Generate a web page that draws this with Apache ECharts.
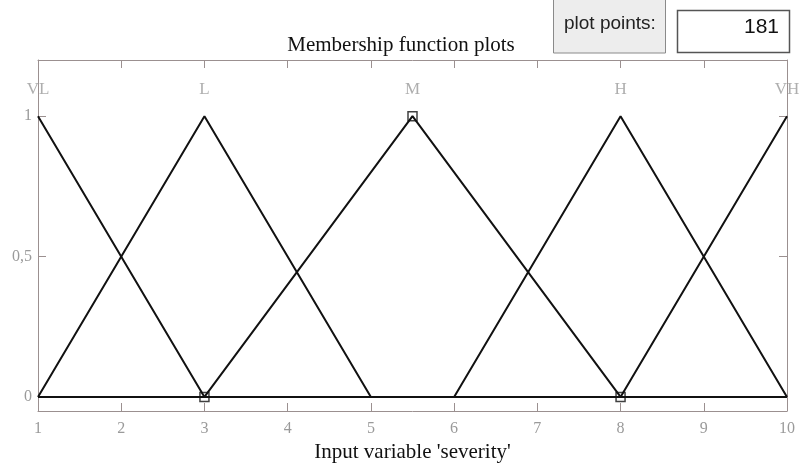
<!DOCTYPE html>
<html>
<head>
<meta charset="utf-8">
<script src="https://cdn.jsdelivr.net/npm/echarts@6/dist/echarts.min.js"></script>
<style>
html,body{margin:0;padding:0;background:#fff;}
#c{width:802px;height:470px;}
</style>
</head>
<body>
<div id="c"></div>
<script>
// ---- data ----
const xTicks = [1,2,3,4,5,6,7,8,9,10];
const yTickValues = [0, 0.5, 1];
const yTickLabels = ['0', '0,5', '1'];
const mfNames = ['VL', 'L', 'M', 'H', 'VH'];
const mfPeaks = [1, 3, 5.5, 8, 10];
const vlX = [1, 3, 10];          const vlY = [1, 0, 0];
const lX  = [1, 3, 5, 10];       const lY  = [0, 1, 0, 0];
const mX  = [1, 3, 5.5, 8, 10];  const mY  = [0, 0, 1, 0, 0];
const hX  = [1, 6, 8, 10];       const hY  = [0, 0, 1, 0];
const vhX = [1, 8, 10];          const vhY = [0, 0, 1];
const selX = [3, 5.5, 8];        const selY = [0, 1, 0];
const labelLevel = 1.096;
const plotPoints = '181';
const titleText = 'Membership function plots';
const xName = "Input variable 'severity'";

const zip = (xs, ys) => xs.map((x, i) => [x, ys[i]]);
const serif = 'Liberation Serif';
const axisCol = '#9b9090';
const labelCol = '#9a9a9a';

const mfLines = [[vlX, vlY], [lX, lY], [mX, mY], [hX, hY], [vhX, vhY]].map(([xs, ys]) => ({
  type: 'line', xAxisIndex: 0, yAxisIndex: 0, data: zip(xs, ys),
  symbol: 'none', lineStyle: {color: '#111', width: 2}, z: 3, animation: false
}));

const chart = echarts.init(document.getElementById('c'), null, {renderer: 'canvas'});
chart.setOption({
  animation: false,
  backgroundColor: '#fff',
  title: {
    text: titleText, left: 'center', top: 30,
    textStyle: {fontFamily: serif, fontSize: 21, fontWeight: 'normal', color: '#111'}
  },
  grid: {left: 38, right: 15, top: 60, bottom: 59, containLabel: false},
  xAxis: [{
    type: 'value', min: 1, max: 10, interval: 1, position: 'bottom',
    name: xName, nameLocation: 'middle', nameGap: 30,
    nameTextStyle: {fontFamily: serif, fontSize: 21, color: '#111'},
    axisLine: {show: true, onZero: false, lineStyle: {color: axisCol, width: 1}},
    axisTick: {show: true, inside: true, length: 8, lineStyle: {color: axisCol}},
    axisLabel: {fontFamily: serif, fontSize: 16, color: labelCol, margin: 10},
    splitLine: {show: false}
  }, {
    type: 'value', min: 1, max: 10, interval: 1, position: 'top',
    axisLine: {show: true, onZero: false, lineStyle: {color: axisCol, width: 1}},
    axisTick: {show: true, inside: true, length: 8, lineStyle: {color: axisCol}},
    axisLabel: {show: false}, splitLine: {show: false}
  }],
  yAxis: [{
    type: 'value', min: -0.05, max: 1.2, position: 'left',
    axisLine: {show: true, onZero: false, lineStyle: {color: axisCol, width: 1}},
    axisTick: {show: true, inside: true, length: 8, customValues: yTickValues, lineStyle: {color: axisCol}},
    axisLabel: {fontFamily: serif, fontSize: 16, color: labelCol, margin: 6, customValues: yTickValues,
      formatter: v => yTickLabels[yTickValues.indexOf(v)] ?? ''},
    splitLine: {show: false}
  }, {
    type: 'value', min: -0.05, max: 1.2, position: 'right',
    axisLine: {show: true, onZero: false, lineStyle: {color: axisCol, width: 1}},
    axisTick: {show: true, inside: true, length: 8, customValues: yTickValues, lineStyle: {color: axisCol}},
    axisLabel: {show: false}, splitLine: {show: false}
  }],
  graphic: [
    {type: 'rect', shape: {x: 553.5, y: -2, width: 112, height: 55},
      style: {fill: '#ededed', stroke: '#8a8a8a', lineWidth: 1}},
    {type: 'text', x: 564, y: 14,
      style: {text: 'plot points:', font: '19px "Liberation Sans"', fill: '#222'}},
    {type: 'rect', shape: {x: 677.5, y: 10.5, width: 112, height: 42},
      style: {fill: '#fff', stroke: '#555', lineWidth: 1.5}},
    {type: 'text', x: 779, y: 17,
      style: {text: plotPoints, font: '21px "Liberation Sans"', fill: '#111', align: 'right'}}
  ],
  series: [
    ...mfLines,
    {
      type: 'scatter', xAxisIndex: 0, yAxisIndex: 0, data: zip(selX, selY),
      symbol: 'rect', symbolSize: 9,
      itemStyle: {color: 'rgba(0,0,0,0)', borderColor: '#111', borderWidth: 1.5}, z: 4
    },
    {
      type: 'scatter', xAxisIndex: 0, yAxisIndex: 0,
      data: mfPeaks.map((p, i) => ({value: [p, labelLevel], name: mfNames[i]})),
      symbolSize: 0, silent: true,
      label: {show: true, position: 'inside', formatter: p => p.name,
        fontFamily: serif, fontSize: 17, color: labelCol}
    }
  ]
});
</script>
</body>
</html>
